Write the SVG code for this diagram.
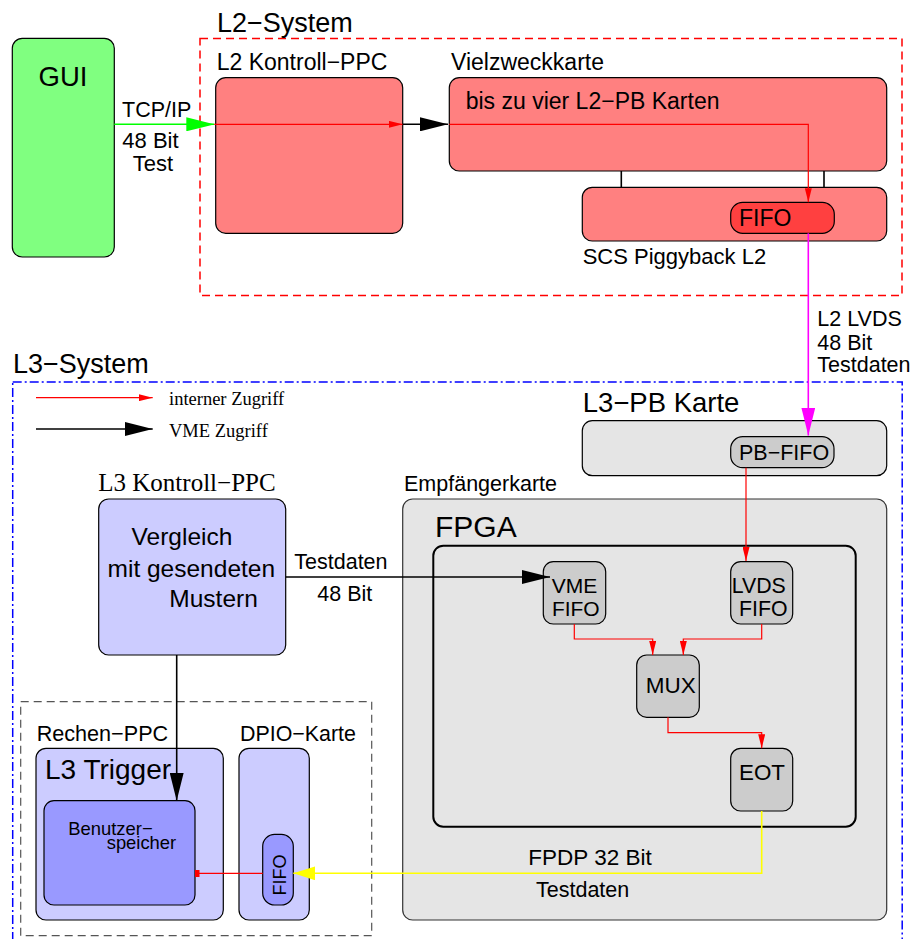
<svg xmlns="http://www.w3.org/2000/svg" width="913" height="939" viewBox="0 0 913 939">
  <style>
    text { font-family: "Liberation Sans", Arial, sans-serif; fill: #000; }
    .serif { font-family: "Liberation Serif", "Times New Roman", serif; }
    .box { stroke: #000; stroke-width: 1.2; }
    .l2 { fill: #ff8080; }
    .l3 { fill: #ccccff; }
    .mem { fill: #9999ff; }
    .grey { fill: #e5e5e5; }
    .chip { fill: #cccccc; }
    .red { fill: none; stroke: #ff0000; stroke-width: 1.2; }
    .blk { fill: none; stroke: #000; stroke-width: 1.6; }
  </style>
  <defs>
    <marker id="mRed" markerUnits="userSpaceOnUse" markerWidth="14" markerHeight="7" refX="14" refY="3.5" orient="auto">
      <path d="M0,0 L14,3.5 L0,7 z" fill="#ff0000"/>
    </marker>
    <marker id="mBlk" markerUnits="userSpaceOnUse" markerWidth="28" markerHeight="14" refX="28" refY="7" orient="auto">
      <path d="M0,0 L28,7 L0,14 z" fill="#000"/>
    </marker>
    <marker id="mGrn" markerUnits="userSpaceOnUse" markerWidth="28" markerHeight="14" refX="28" refY="7" orient="auto">
      <path d="M0,0 L28,7 L0,14 z" fill="#00ff00"/>
    </marker>
    <marker id="mMag" markerUnits="userSpaceOnUse" markerWidth="28" markerHeight="14" refX="28" refY="7" orient="auto">
      <path d="M0,0 L28,7 L0,14 z" fill="#ff00ff"/>
    </marker>
    <marker id="mYel" markerUnits="userSpaceOnUse" markerWidth="22" markerHeight="14" refX="22" refY="7" orient="auto">
      <path d="M0,0 L22,7 L0,14 z" fill="#ffff00"/>
    </marker>
  </defs>

  <rect width="913" height="939" fill="#fff"/>

  <!-- system frames -->
  <g id="l2-system">
    <rect x="200" y="38.5" width="702" height="257" fill="none" stroke="#ff0000" stroke-width="1.5" stroke-dasharray="8,5"/>
    <text x="217" y="31.5" font-size="27">L2−System</text>
  </g>
  <g id="l3-system">
    <rect x="12.7" y="382" width="889.5" height="580" fill="none" stroke="#0000ff" stroke-width="1.5" stroke-dasharray="9,3,2,3"/>
    <text x="13" y="373.3" font-size="27">L3−System</text>
  </g>
  <g id="l3-trigger-group">
    <rect x="20.7" y="701.7" width="351" height="234" fill="none" stroke="#555" stroke-width="1.2" stroke-dasharray="8,5"/>
  </g>

  <!-- legend -->
  <g id="legend">
    <line x1="36" y1="397.7" x2="152.7" y2="397.7" stroke="#ff0000" stroke-width="1.2" marker-end="url(#mRed)"/>
    <text class="serif" x="169" y="405" font-size="18.5">interner Zugriff</text>
    <line x1="36" y1="429" x2="152.7" y2="429" stroke="#000" stroke-width="1.6" marker-end="url(#mBlk)"/>
    <text class="serif" x="169" y="436.7" font-size="18.5">VME Zugriff</text>
  </g>

  <!-- L2 nodes -->
  <g id="gui">
    <rect class="box" x="12.3" y="38.3" width="102" height="218.7" rx="10" fill="#80ff80"/>
    <text x="63" y="85.7" font-size="27.5" text-anchor="middle">GUI</text>
  </g>
  <g id="l2-kontroll-ppc">
    <text x="216.7" y="70" font-size="23">L2 Kontroll−PPC</text>
    <rect class="box l2" x="215.7" y="77.7" width="187" height="155.6" rx="10"/>
  </g>
  <g id="vielzweckkarte">
    <text x="451" y="69.5" font-size="23">Vielzweckkarte</text>
    <rect class="box l2" x="449.3" y="77.7" width="437.4" height="93.3" rx="10"/>
    <text x="465.7" y="108.7" font-size="23">bis zu vier L2−PB Karten</text>
  </g>
  <g id="scs-piggyback">
    <line x1="621.3" y1="171" x2="621.3" y2="187.3" stroke="#000" stroke-width="1.6"/>
    <line x1="824" y1="171" x2="824" y2="187.3" stroke="#000" stroke-width="1.6"/>
    <rect class="box l2" x="582.3" y="187.3" width="304.4" height="53.7" rx="10"/>
    <text x="582.7" y="264.3" font-size="22">SCS Piggyback L2</text>
  </g>
  <g id="l2-fifo">
    <rect class="box" x="730.7" y="202.3" width="103.6" height="31" rx="12" fill="#ff4040"/>
    <text x="739" y="226" font-size="23">FIFO</text>
  </g>

  <!-- L3 nodes -->
  <g id="l3-pb-karte">
    <text x="582.7" y="412.3" font-size="27.5">L3−PB Karte</text>
    <rect class="box grey" x="582.3" y="420.7" width="304.4" height="55" rx="10"/>
  </g>
  <g id="pb-fifo">
    <rect class="box chip" x="730.7" y="436.7" width="103.3" height="31" rx="12"/>
    <text x="739" y="460" font-size="21.5">PB−FIFO</text>
  </g>
  <g id="l3-kontroll-ppc">
    <text class="serif" x="98.3" y="490.7" font-size="25">L3 Kontroll−PPC</text>
    <rect class="box l3" x="98.7" y="499" width="187" height="156" rx="10"/>
    <text x="182" y="545" font-size="24.5" text-anchor="middle">Vergleich</text>
    <text x="191.3" y="576.7" font-size="24.5" text-anchor="middle">mit gesendeten</text>
    <text x="169.3" y="607.3" font-size="24.5">Mustern</text>
  </g>
  <g id="empfaengerkarte">
    <text x="404" y="490.7" font-size="21.5">Empfängerkarte</text>
    <rect x="402.7" y="499" width="484" height="421" rx="10" fill="#e5e5e5" stroke="#333" stroke-width="1.2"/>
  </g>
  <g id="fpga">
    <text x="435" y="536.7" font-size="30">FPGA</text>
    <rect x="433.3" y="545.7" width="422.4" height="281" rx="10" fill="#e5e5e5" stroke="#000" stroke-width="2"/>
  </g>
  <g id="vme-fifo">
    <rect class="box chip" x="543.3" y="561.7" width="62.4" height="62.3" rx="10"/>
    <text x="574.5" y="593.3" font-size="21" text-anchor="middle">VME</text>
    <text x="575.8" y="616" font-size="21" text-anchor="middle">FIFO</text>
  </g>
  <g id="lvds-fifo">
    <rect class="box chip" x="730.7" y="561.7" width="62" height="62.3" rx="10"/>
    <text x="758.8" y="593.3" font-size="21.3" text-anchor="middle">LVDS</text>
    <text x="763.3" y="616" font-size="21.3" text-anchor="middle">FIFO</text>
  </g>
  <g id="mux">
    <rect class="box chip" x="636.7" y="655" width="62.6" height="62.3" rx="10"/>
    <text x="670.7" y="693.3" font-size="22.5" text-anchor="middle">MUX</text>
  </g>
  <g id="eot">
    <rect class="box chip" x="730.7" y="748.3" width="62" height="62.7" rx="10"/>
    <text x="762" y="780" font-size="22.4" text-anchor="middle">EOT</text>
  </g>
  <g id="rechen-ppc">
    <text x="36.7" y="740.7" font-size="21.6">Rechen−PPC</text>
    <rect class="box l3" x="36" y="748.3" width="187.3" height="171.7" rx="10"/>
    <text x="45" y="779.3" font-size="28">L3 Trigger</text>
  </g>
  <g id="benutzerspeicher">
    <rect class="box mem" x="44" y="800.7" width="151" height="104.3" rx="10"/>
    <text x="68.3" y="835" font-size="18.4">Benutzer−</text>
    <text x="106.7" y="849.3" font-size="18.4">speicher</text>
  </g>
  <g id="dpio-karte">
    <text x="240" y="740.7" font-size="21.4">DPIO−Karte</text>
    <rect class="box l3" x="239" y="748.3" width="70.3" height="171.7" rx="10"/>
  </g>
  <g id="dpio-fifo">
    <rect class="box mem" x="262.7" y="834.3" width="30.6" height="70.7" rx="12"/>
    <text transform="translate(285.7,875) rotate(-90)" font-size="18" text-anchor="middle">FIFO</text>
  </g>

  <!-- connectors -->
  <g id="connectors">
    <line x1="114.3" y1="124.3" x2="214.3" y2="124.3" stroke="#00ff00" stroke-width="1.6" marker-end="url(#mGrn)"/>
    <text x="122" y="116.7" font-size="21.5">TCP/IP</text>
    <text x="122.3" y="147.7" font-size="22">48 Bit</text>
    <text x="153" y="171" font-size="22" text-anchor="middle">Test</text>

    <line x1="214.3" y1="124.3" x2="402.7" y2="124.3" class="red" marker-end="url(#mRed)"/>
    <line x1="402.7" y1="124.3" x2="448" y2="124.3" class="blk" marker-end="url(#mBlk)"/>
    <path d="M449.3,124.3 H808.3 V202.3" class="red" marker-end="url(#mRed)"/>

    <line x1="808.3" y1="233.3" x2="808.3" y2="435.5" stroke="#ff00ff" stroke-width="1.6" marker-end="url(#mMag)"/>
    <text x="817.3" y="326" font-size="21.5">L2 LVDS</text>
    <text x="817.3" y="350" font-size="21.5">48 Bit</text>
    <text x="817.3" y="372.3" font-size="21.5">Testdaten</text>

    <line x1="746" y1="467.7" x2="746" y2="561" class="red" marker-end="url(#mRed)"/>

    <line x1="285.7" y1="577" x2="550" y2="577" class="blk" marker-end="url(#mBlk)"/>
    <text x="294.3" y="569.3" font-size="21.5">Testdaten</text>
    <text x="317.3" y="600.7" font-size="21.5">48 Bit</text>

    <path d="M574.3,624 V639 H652.7 V655" class="red" marker-end="url(#mRed)"/>
    <path d="M761.7,624 V639 H683.3 V655" class="red" marker-end="url(#mRed)"/>
    <path d="M668,717.3 V732.7 H761.7 V748.3" class="red" marker-end="url(#mRed)"/>

    <line x1="176.7" y1="655" x2="176.7" y2="800.7" class="blk" marker-end="url(#mBlk)"/>

    <path d="M761.7,811 V873.3 H293.3" fill="none" stroke="#ffff00" stroke-width="1.6" marker-end="url(#mYel)"/>
    <text x="528.3" y="865" font-size="22.5">FPDP 32 Bit</text>
    <text x="536" y="896.7" font-size="21.5">Testdaten</text>

    <line x1="262.7" y1="873.3" x2="199" y2="873.3" class="red"/>
    <rect x="195" y="870" width="4.5" height="7" fill="#ff0000"/>
  </g>
</svg>
